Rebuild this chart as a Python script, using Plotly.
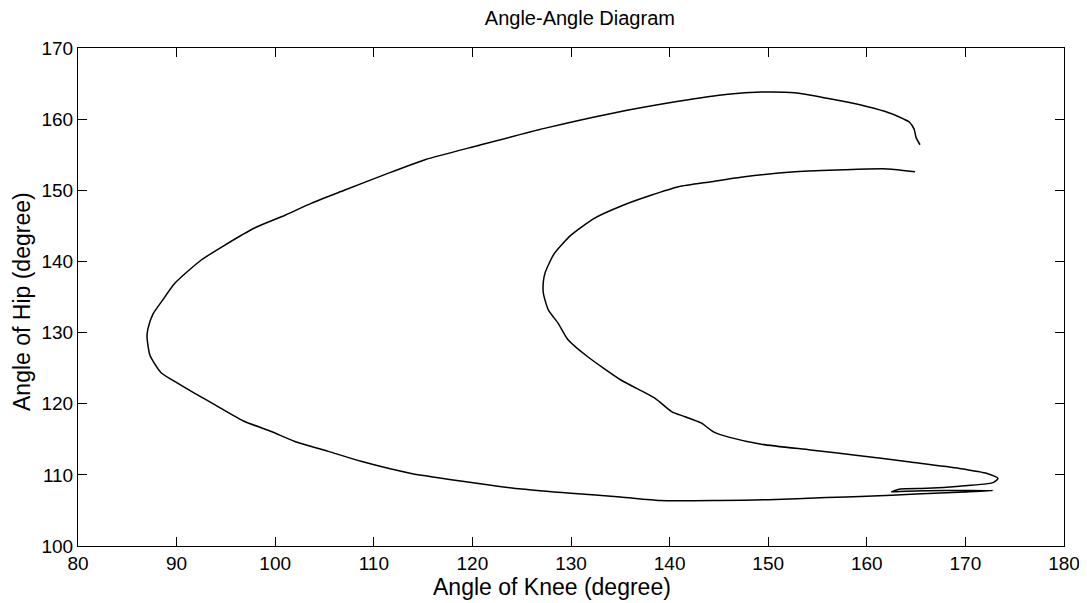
import plotly.graph_objects as go

knee = [165.4, 165.0, 164.8, 164.3, 163.3, 161.8, 159.4, 156.1, 152.7, 149.3, 145.9, 140.9,
        134.1, 127.3, 120.6, 115.2, 111.1, 107.0, 103.7, 101.0, 97.9, 94.9, 92.5, 89.8,
        88.6, 87.6, 87.1, 87.0, 87.3, 88.4, 90.1, 91.8, 94.2, 96.9, 99.6, 102.0, 105.4,
        108.7, 113.8, 120.6, 125.0, 130.0, 135.0, 139.0, 145.0, 150.0, 155.9, 160.0,
        165.0, 170.0, 172.8, 168.0, 164.0, 162.5, 163.4, 166.1, 169.4, 172.8, 173.3,
        172.2, 169.4, 164.4, 159.3, 154.3, 149.3, 146.0, 144.5, 143.2, 141.5, 140.2,
        138.5, 135.1, 131.7, 129.7, 128.7, 127.7, 127.2, 127.2, 127.4, 128.3, 130.0,
        132.4, 135.1, 138.1, 140.9, 144.2, 147.6, 152.7, 157.8, 162.1, 164.9]
hip = [156.4, 157.4, 158.6, 159.6, 160.3, 161.1, 162.0, 162.9, 163.7, 163.8, 163.5, 162.5,
       160.8, 158.7, 156.3, 154.3, 152.2, 150.0, 148.2, 146.5, 144.7, 142.3, 140.2, 136.9,
       134.6, 132.6, 130.6, 129.4, 126.8, 124.4, 122.9, 121.5, 119.6, 117.5, 116.1, 114.7,
       113.3, 111.9, 110.2, 108.8, 108.0, 107.4, 106.9, 106.4, 106.4, 106.5, 106.8, 107.0,
       107.3, 107.6, 107.8, 107.8, 107.7, 107.6, 108.0, 108.1, 108.4, 108.9, 109.5,
       110.2, 110.9, 111.8, 112.7, 113.5, 114.3, 115.3, 116.0, 117.3, 118.2, 118.9,
       120.8, 123.3, 126.6, 129.0, 131.3, 133.2, 135.5, 137.2, 138.5, 141.1, 143.7,
       146.1, 147.8, 149.3, 150.5, 151.2, 151.9, 152.6, 152.9, 153.0, 152.6]

x_ticks = [80, 90, 100, 110, 120, 130, 140, 150, 160, 170, 180]
y_ticks = [100, 110, 120, 130, 140, 150, 160, 170]

fig = go.Figure()
fig.add_trace(go.Scatter(x=knee, y=hip, mode="lines",
                         line=dict(color="black", width=1.5, shape="spline", smoothing=0.6),
                         showlegend=False, hoverinfo="skip"))

font = "Liberation Sans, Arial, Helvetica, sans-serif"
axis_common = dict(showgrid=False, zeroline=False, showline=True, linecolor="black",
                   linewidth=1, mirror="ticks", ticks="inside", ticklen=9,
                   tickcolor="black", tickwidth=1,
                   tickfont=dict(family=font, size=19, color="black"))

fig.update_layout(
    width=1079, height=595,
    margin=dict(l=70, r=23, t=40, b=57, autoexpand=False),
    paper_bgcolor="white", plot_bgcolor="white",
    title=dict(text="Angle-Angle Diagram", x=0.530, xanchor="center", y=0.983, yanchor="middle",
               font=dict(family=font, size=20, color="black")),
    xaxis=dict(range=[80, 180], tickvals=x_ticks, ticktext=[str(v) for v in x_ticks],
               **axis_common),
    yaxis=dict(range=[100, 170], tickvals=y_ticks, ticktext=[str(v) for v in y_ticks],
               **axis_common),
)

fig.add_annotation(text="Angle of Knee (degree)", xref="paper", yref="paper",
                   x=0.4807, y=0, yshift=-41, xanchor="center", yanchor="middle",
                   showarrow=False, font=dict(family=font, size=23, color="black"))
fig.add_annotation(text="Angle of Hip (degree)", xref="paper", yref="paper",
                   x=0, xshift=-56, y=0.49, xanchor="center", yanchor="middle",
                   textangle=-90, showarrow=False,
                   font=dict(family=font, size=23, color="black"))

fig.write_html("out.html")
